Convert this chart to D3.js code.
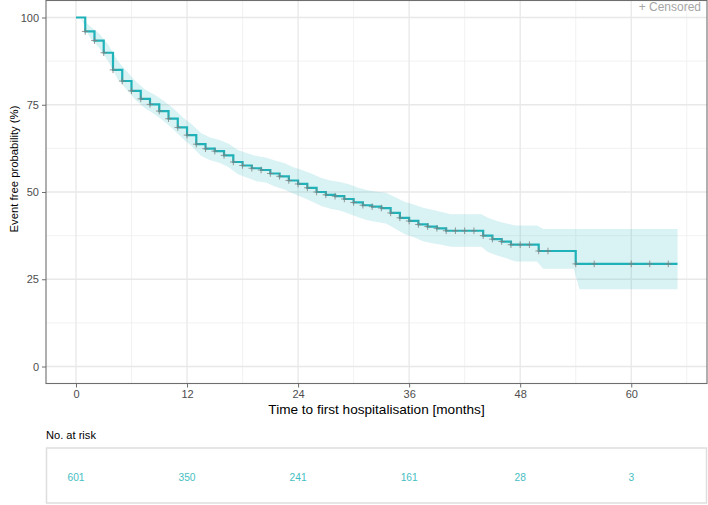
<!DOCTYPE html>
<html>
<head>
<meta charset="utf-8">
<script src="https://cdn.jsdelivr.net/npm/d3@7/dist/d3.min.js"></script>
<style>
  html, body { margin: 0; padding: 0; background: #fff; }
  svg { display: block; font-family: "Liberation Sans", Arial, Helvetica, sans-serif; }
</style>
</head>
<body>
<svg id="chart" width="708" height="505"></svg>
<script>
// ---- data ----
const stepTimes = [0,1,2,3,4,5,6,7,8,9,10,11,12,13,14,15,16,17,18,19,20,21,22,23,24,25,26,27,28,29,30,31,32,33,34,35,36,37,38,39,40,44,45,46,47,50,54];
const survival  = [100,96.0,93.4,89.9,85.0,81.8,79.0,76.7,75.1,73.2,71.0,68.5,66.3,63.7,62.4,61.7,60.5,58.6,57.6,56.8,56.3,55.3,54.5,53.3,52.3,51.2,50.0,49.2,48.8,48.0,47.0,46.2,45.8,45.4,44.0,42.6,41.7,40.7,40.1,39.6,38.9,37.5,36.5,35.8,34.9,33.1,29.4];
const upperCI   = [100,97.6,95.4,92.2,87.6,84.5,81.6,79.3,77.9,76.1,74.0,71.5,69.4,66.9,65.6,64.9,63.8,62.0,61.1,60.3,59.9,59.0,58.3,57.1,56.2,55.2,54.0,53.3,52.9,52.2,51.2,50.5,50.1,49.8,48.5,47.2,46.4,45.5,44.9,44.3,43.6,42.6,41.7,41.0,40.4,39.4,39.4];
const lowerCI   = [100,94.3,91.3,87.4,82.4,79.2,76.2,73.9,72.3,70.3,68.0,65.4,63.1,60.4,59.1,58.4,57.1,55.1,54.1,53.1,52.7,51.6,50.7,49.5,48.4,47.3,46.0,45.2,44.7,43.8,42.8,41.9,41.4,41.0,39.5,38.0,37.0,35.9,35.3,34.9,34.3,32.8,31.8,31.0,30.1,28.0,22.1];
const censorTimes = [1,2,3,4,5,6,7,8,9,10,11,12,13,14,15,16,17,18,19,20,21,22,23,24,25,26,27,28,29,30,31,32,33,34,35,36,37,38,39,40,41,42,43,44,45,46,47,48,49,50,51,54,56,60,62,64];
const endTime = 65;
const xTicks = [0,12,24,36,48,60];
const xMinor = [6,18,30,42,54,66];
const yTicks = [0,25,50,75,100];
const yMinor = [12.5,37.5,62.5,87.5];
const riskTimes = [0,12,24,36,48,60];
const riskCounts = [601,350,241,161,28,3];

// ---- layout ----
const teal = "#1fb3b9";
const svg = d3.select("#chart");
const pL = 46, pR = 707, pT = 0.5, pB = 383.5;
const x = d3.scaleLinear().domain([-3.25, 68.25]).range([45.9, 707.6]);
const y = d3.scaleLinear().domain([-5, 105]).range([383.95, 0.05]);

// grid
const grid = svg.append("g");
grid.selectAll(".vmin").data(xMinor).join("line")
  .attr("x1", d => x(d)).attr("x2", d => x(d)).attr("y1", pT).attr("y2", pB)
  .attr("stroke", "#efefef").attr("stroke-width", 0.8);
grid.selectAll(".hmin").data(yMinor).join("line")
  .attr("x1", pL).attr("x2", pR).attr("y1", d => y(d)).attr("y2", d => y(d))
  .attr("stroke", "#efefef").attr("stroke-width", 0.8);
grid.selectAll(".vmaj").data(xTicks).join("line")
  .attr("x1", d => x(d)).attr("x2", d => x(d)).attr("y1", pT).attr("y2", pB)
  .attr("stroke", "#e8e8e8").attr("stroke-width", 1.3);
grid.selectAll(".hmaj").data(yTicks).join("line")
  .attr("x1", pL).attr("x2", pR).attr("y1", d => y(d)).attr("y2", d => y(d))
  .attr("stroke", "#e8e8e8").attr("stroke-width", 1.3);

// data with end point
const pts = stepTimes.map((t, i) => ({t, s: survival[i], u: upperCI[i], l: lowerCI[i]}));
const last = pts[pts.length - 1];
const ptsEnd = pts.concat([{t: endTime, s: last.s, u: last.u, l: last.l}]);

// CI ribbon: softened step ribbon (points placed inside each step interval)
const band = [{t: 0, u: 100, l: 100}];
for (let i = 0; i < pts.length; i++) {
  const t0 = pts[i].t, t1 = (i + 1 < pts.length) ? pts[i + 1].t : endTime;
  const d = pts[i];
  if (i + 1 === pts.length) {
    band.push({t: t0 + 0.4, u: d.u, l: d.l});
    band.push({t: t1, u: d.u, l: d.l});
  } else if (t1 - t0 <= 1.5) {
    band.push({t: (t0 + t1) / 2, u: d.u, l: d.l});
  } else {
    band.push({t: t0 + 0.5, u: d.u, l: d.l});
    band.push({t: t1 - 0.2, u: d.u, l: d.l});
  }
}
const area = d3.area().curve(d3.curveLinear)
  .x(d => x(d.t)).y0(d => y(d.l)).y1(d => y(d.u));
svg.append("path").datum(band).attr("d", area)
  .attr("fill", teal).attr("fill-opacity", 0.17);

// survival line
const line = d3.line().curve(d3.curveStepAfter).x(d => x(d.t)).y(d => y(d.s));
svg.append("path").datum(ptsEnd).attr("d", line)
  .attr("fill", "none").attr("stroke", teal).attr("stroke-width", 2.2);

// censor marks
function survAt(t) {
  let v = survival[0];
  for (let i = 0; i < stepTimes.length; i++) if (stepTimes[i] <= t) v = survival[i];
  return v;
}
const cg = svg.append("g").attr("stroke", "#808080").attr("stroke-width", 1).attr("stroke-opacity", 0.8);
censorTimes.forEach(t => {
  const cx = x(t), cy = y(survAt(t));
  cg.append("line").attr("x1", cx - 3.3).attr("x2", cx + 3.3).attr("y1", cy).attr("y2", cy);
  cg.append("line").attr("x1", cx).attr("x2", cx).attr("y1", cy - 3.3).attr("y2", cy + 3.3);
});

// panel border
svg.append("rect").attr("x", pL).attr("y", pT).attr("width", pR - pL).attr("height", pB - pT)
  .attr("fill", "none").attr("stroke", "#6e6e6e").attr("stroke-width", 1.1);

// axes ticks & labels
const xAxis = d3.axisBottom(x).tickValues(xTicks).tickSize(4).tickPadding(3);
const gx = svg.append("g").attr("transform", `translate(0,${pB})`).call(xAxis);
gx.select(".domain").remove();
gx.selectAll("line").attr("stroke", "#6e6e6e");
gx.selectAll("text").attr("fill", "#4d4d4d").attr("font-size", 11).attr("font-family", "Liberation Sans, Arial, sans-serif");

const yAxis = d3.axisLeft(y).tickValues(yTicks).tickSize(4).tickPadding(3);
const gy = svg.append("g").attr("transform", `translate(${pL},0)`).call(yAxis);
gy.select(".domain").remove();
gy.selectAll("line").attr("stroke", "#6e6e6e");
gy.selectAll("text").attr("fill", "#4d4d4d").attr("font-size", 11).attr("font-family", "Liberation Sans, Arial, sans-serif");

// axis titles
svg.append("text").attr("x", 376.5).attr("y", 414).attr("text-anchor", "middle")
  .attr("font-size", 13.6).attr("fill", "#000").text("Time to first hospitalisation [months]");
svg.append("text").attr("transform", "translate(18,169) rotate(-90)").attr("text-anchor", "middle")
  .attr("font-size", 11.3).attr("fill", "#000").text("Event free probability (%)");

// legend
svg.append("text").attr("x", 701).attr("y", 10.5).attr("text-anchor", "end")
  .attr("font-size", 12).attr("fill", "#a6a6a6").text("+ Censored");

// risk table
svg.append("text").attr("x", 46).attr("y", 438.5).attr("font-size", 11.1).attr("fill", "#000").text("No. at risk");
svg.append("rect").attr("x", 46.5).attr("y", 448).attr("width", 660).attr("height", 55)
  .attr("fill", "none").attr("stroke", "#dedede").attr("stroke-width", 1.5);
svg.append("g").selectAll("text").data(riskTimes).join("text")
  .attr("x", d => x(d)).attr("y", 480.5).attr("text-anchor", "middle")
  .attr("font-size", 10.2).attr("fill", "#45bec3")
  .text((d, i) => riskCounts[i]);
</script>
</body>
</html>
